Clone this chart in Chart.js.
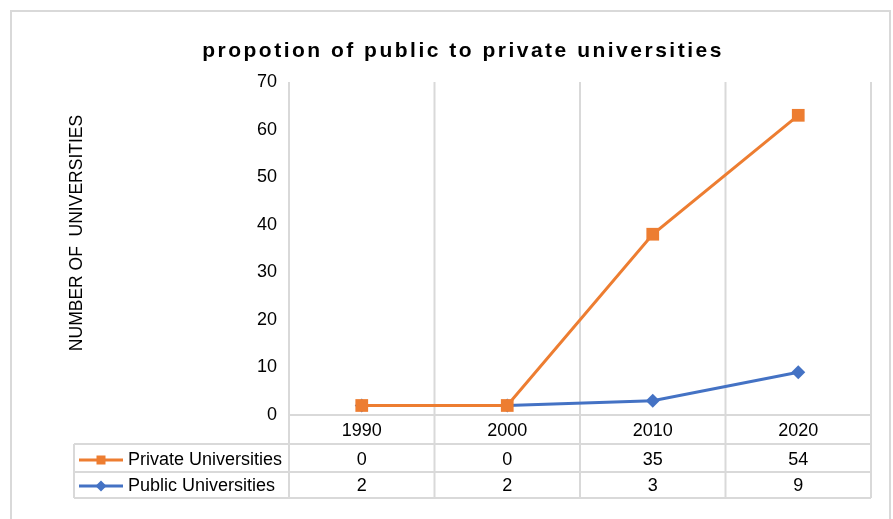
<!DOCTYPE html>
<html><head><meta charset="utf-8">
<script src="https://cdn.jsdelivr.net/npm/chart.js@4"></script>
<style>html,body{margin:0;padding:0;background:#fff}#wrap{width:893px;height:519px;position:relative}</style>
</head><body><div id="wrap"><canvas id="c" width="893" height="519"></canvas></div>
<script>
const years = ['1990', '2000', '2010', '2020'];
const privateUniversities = [0, 0, 35, 54];
const publicUniversities = [2, 2, 3, 9];
const seriesNames = ['Private Universities', 'Public Universities'];
const chartTitle = 'propotion of public to private universities';
const yAxisTitle = 'NUMBER OF  UNIVERSITIES';
const yMin = 0, yMax = 70, yStep = 10;

const ORANGE = '#ED7D31', BLUE = '#4472C4', GRID = '#d9d9d9';
const FONT = '"Liberation Sans", Arial, Helvetica, sans-serif';

const deco = {
  id: 'deco',
  beforeDraw(chart) {
    const ctx = chart.ctx;
    ctx.save();
    ctx.fillStyle = '#fff';
    ctx.fillRect(0, 0, chart.width, chart.height);
    ctx.strokeStyle = GRID; ctx.lineWidth = 2;
    ctx.strokeRect(11, 11, 879, 600);
    // title
    ctx.fillStyle = '#000';
    ctx.font = 'bold 21px ' + FONT;
    ctx.letterSpacing = '2.5px';
    ctx.textAlign = 'center'; ctx.textBaseline = 'alphabetic';
    ctx.fillText(chartTitle, 463, 57);
    ctx.letterSpacing = '0px';
    // y title
    ctx.save();
    ctx.translate(77, 233);
    ctx.rotate(-Math.PI / 2);
    ctx.font = '17.5px ' + FONT;
    ctx.textBaseline = 'middle';
    ctx.fillText(yAxisTitle, 0, 0);
    ctx.restore();
    ctx.restore();
  },
  beforeDatasetsDraw(chart) {
    const ctx = chart.ctx, a = chart.chartArea, x = chart.scales.x;
    const n = years.length;
    const xs = years.map((_, i) => x.getPixelForValue(i));
    const bounds = [a.left];
    for (let i = 1; i < n; i++) bounds.push((xs[i - 1] + xs[i]) / 2);
    bounds.push(a.right);
    const tableL = 74;
    const r1 = a.bottom + 29, r2 = a.bottom + 57, r3 = a.bottom + 83;
    ctx.save();
    ctx.strokeStyle = GRID; ctx.lineWidth = 2;
    ctx.beginPath();
    bounds.forEach(b => { ctx.moveTo(b, a.top); ctx.lineTo(b, r3); });
    ctx.moveTo(tableL, r1); ctx.lineTo(tableL, r3);
    ctx.moveTo(a.left, a.bottom); ctx.lineTo(a.right, a.bottom);
    [r1, r2, r3].forEach(r => { ctx.moveTo(tableL, r); ctx.lineTo(a.right, r); });
    ctx.stroke();
    ctx.restore();
    // draw public series first so private sits on top
    chart.getDatasetMeta(0).controller.draw();
  },
  beforeDatasetDraw(chart, args) {
    if (args.index === 0) return false;
  },
  afterDraw(chart) {
    const ctx = chart.ctx, a = chart.chartArea, x = chart.scales.x;
    const xs = years.map((_, i) => x.getPixelForValue(i));
    const hy = a.bottom + 16, y1 = a.bottom + 45, y2 = a.bottom + 71;
    ctx.save();
    ctx.fillStyle = '#000';
    ctx.font = '18px ' + FONT;
    ctx.textAlign = 'center'; ctx.textBaseline = 'middle';
    years.forEach((yr, i) => ctx.fillText(yr, xs[i], hy));
    privateUniversities.forEach((v, i) => ctx.fillText(String(v), xs[i], y1));
    publicUniversities.forEach((v, i) => ctx.fillText(String(v), xs[i], y2));
    ctx.textAlign = 'left';
    ctx.fillText(seriesNames[0], 128, y1);
    ctx.fillText(seriesNames[1], 128, y2);
    // legend keys
    ctx.lineWidth = 3;
    ctx.strokeStyle = ORANGE;
    ctx.beginPath(); ctx.moveTo(79, y1); ctx.lineTo(123, y1); ctx.stroke();
    ctx.fillStyle = ORANGE;
    ctx.fillRect(101 - 4.5, y1 - 4.5, 9, 9);
    ctx.strokeStyle = BLUE;
    ctx.beginPath(); ctx.moveTo(79, y2); ctx.lineTo(123, y2); ctx.stroke();
    ctx.fillStyle = BLUE;
    ctx.beginPath();
    ctx.moveTo(101, y2 - 5.5); ctx.lineTo(106.5, y2); ctx.lineTo(101, y2 + 5.5); ctx.lineTo(95.5, y2);
    ctx.closePath(); ctx.fill();
    ctx.restore();
  }
};

new Chart(document.getElementById('c'), {
  type: 'line',
  data: {
    labels: years,
    datasets: [
      {
        label: seriesNames[1], data: publicUniversities,
        borderColor: BLUE, backgroundColor: BLUE, borderWidth: 3,
        pointStyle: 'rectRot', pointRadius: 7, pointBorderWidth: 0,
        pointBackgroundColor: BLUE, tension: 0, fill: false
      },
      {
        label: seriesNames[0], data: privateUniversities,
        borderColor: ORANGE, backgroundColor: ORANGE, borderWidth: 3,
        pointStyle: 'rect', pointRadius: 9, pointBorderWidth: 0,
        pointBackgroundColor: ORANGE, tension: 0, fill: false
      }
    ]
  },
  options: {
    responsive: false, animation: false, devicePixelRatio: 1,
    layout: { padding: { top: 82, right: 22, bottom: 0, left: 0 } },
    plugins: { legend: { display: false }, title: { display: false }, tooltip: { enabled: false } },
    scales: {
      x: {
        offset: true,
        ticks: { display: false },
        grid: { display: false, drawTicks: false },
        border: { display: false },
        afterFit(s) { s.height = 104; }
      },
      y: {
        stacked: true, min: yMin, max: yMax,
        ticks: { stepSize: yStep, font: { family: FONT, size: 18 }, color: '#000', padding: 12 },
        grid: { display: false, drawTicks: false },
        border: { display: false },
        afterFit(s) { s.width = 289; }
      }
    }
  },
  plugins: [deco]
});
</script>
</body></html>
